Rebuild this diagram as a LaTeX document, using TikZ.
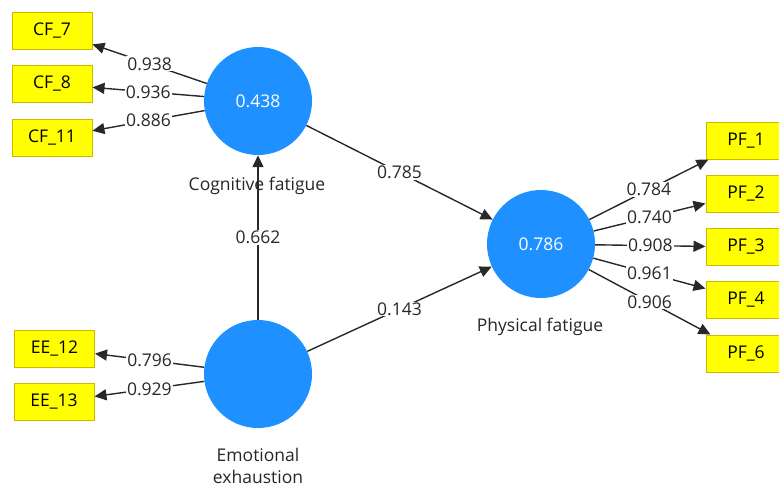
\documentclass[tikz,border=0pt]{standalone}
\usepackage{fontspec}
\setmainfont{Open Sans}
\usetikzlibrary{arrows.meta}
\definecolor{latent}{RGB}{30,144,255}
\definecolor{indfill}{RGB}{255,255,0}
\definecolor{indborder}{RGB}{205,185,0}
\definecolor{linkcol}{RGB}{40,40,40}
\begin{document}
\begin{tikzpicture}[x=1pt,y=-1pt,
  font=\fontsize{17.5}{21}\selectfont,
  latentvar/.style={circle,fill=latent,minimum size=108pt,inner sep=0pt,text=white},
  indicator/.style={rectangle,fill=indfill,draw=indborder,line width=1pt,
    minimum width=80pt,minimum height=37pt,inner sep=0pt,text=black},
  link/.style={draw=linkcol,line width=1.4pt,-{Triangle[length=12pt,width=11pt]}},
  weight/.style={fill=white,inner sep=1pt,text=linkcol,midway},
  caption/.style={text=black!85,align=center,inner sep=1pt}]
\useasboundingbox (0,0) rectangle (779,488);

% latent variables
\node[latentvar] (cf) at (258,101) {0.438};
\node[latentvar] (pf) at (541,244) {0.786};
\node[latentvar] (ee) at (258,374) {};

\node[caption] (cfname) at (257,186) {Cognitive fatigue};
\node[caption] (pfname) at (540,327) {Physical fatigue};
\node[caption,font=\fontsize{17.5}{22}\selectfont] (eename) at (258,466) {Emotional\\exhaustion};

% indicators
\node[indicator] (cf7)  at (52,30.5)  {CF\_7};
\node[indicator] (cf8)  at (52,84)    {CF\_8};
\node[indicator] (cf11) at (52,138)   {CF\_11};
\node[indicator] (ee12) at (54.5,348.5) {EE\_12};
\node[indicator] (ee13) at (54,402)   {EE\_13};
\node[indicator] (pf1)  at (746,140.5) {PF\_1};
\node[indicator] (pf2)  at (746,193.5) {PF\_2};
\node[indicator] (pf3)  at (746,247)   {PF\_3};
\node[indicator] (pf4)  at (746,299.5) {PF\_4};
\node[indicator] (pf6)  at (746,353.5) {PF\_6};

% outer loadings
\draw[link] (cf) -- node[weight] {0.938} (cf7);
\draw[link] (cf) -- node[weight] {0.936} (cf8);
\draw[link] (cf) -- node[weight] {0.886} (cf11);
\draw[link] (ee) -- node[weight] {0.796} (ee12);
\draw[link] (ee) -- node[weight] {0.929} (ee13);
\draw[link] (pf) -- node[weight] {0.784} (pf1);
\draw[link] (pf) -- node[weight] {0.740} (pf2);
\draw[link] (pf) -- node[weight] {0.908} (pf3);
\draw[link] (pf) -- node[weight] {0.961} (pf4);
\draw[link] (pf) -- node[weight] {0.906} (pf6);

% path coefficients
\draw[link] (ee) -- node[weight] {0.662} (cf);
\draw[link] (cf) -- node[weight] {0.785} (pf);
\draw[link] (ee) -- node[weight] {0.143} (pf);
\end{tikzpicture}
\end{document}
